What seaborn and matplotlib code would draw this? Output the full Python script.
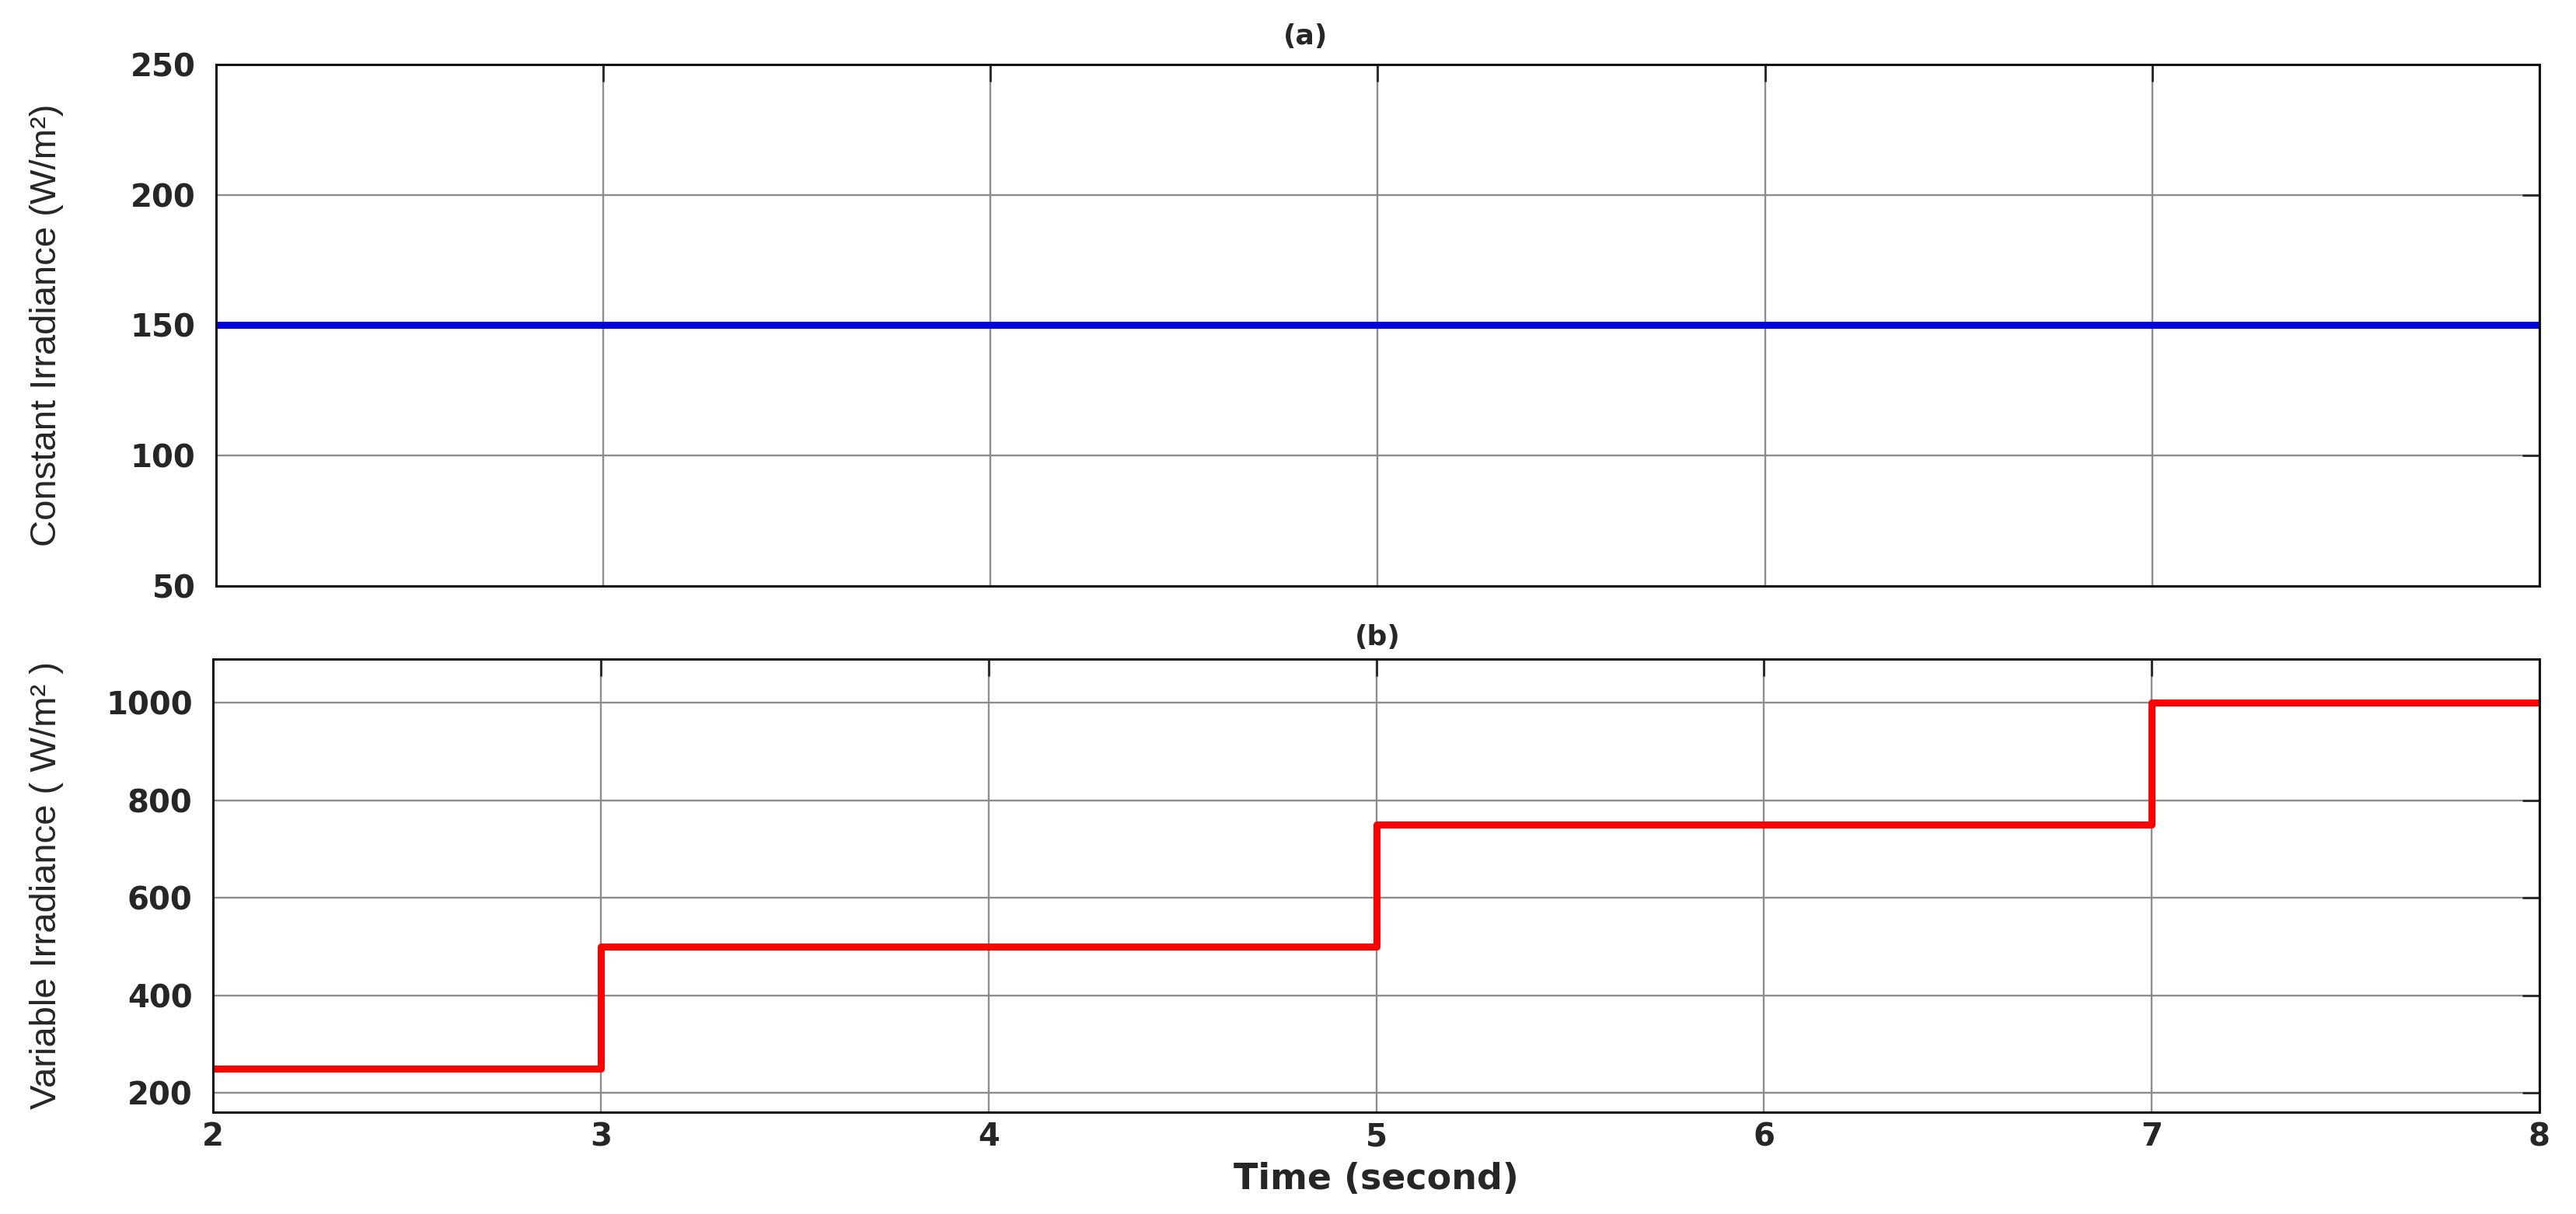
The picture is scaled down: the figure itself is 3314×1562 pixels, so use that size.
import matplotlib
matplotlib.use("Agg")
import matplotlib.pyplot as plt
import seaborn as sns
import pandas as pd

# irradiance profiles (time in seconds, W/m^2)
time_a = [2, 8]
irr_a = [150, 150]
time_b = [2, 3, 5, 7, 8]
irr_b = [250, 500, 750, 1000, 1000]

xticks = [2, 3, 4, 5, 6, 7, 8]
yticks_a = [50, 100, 150, 200, 250]
yticks_b = [200, 400, 600, 800, 1000]

sns.set_style("white")
plt.rcParams["font.family"] = ["DejaVu Sans"]

df_a = pd.DataFrame({"t": time_a, "irr": irr_a})
df_b = pd.DataFrame({"t": time_b, "irr": irr_b})

fig = plt.figure(figsize=(33.14, 15.62), dpi=100)
ax1 = fig.add_axes([0.0839, 0.5173, 0.9019, 0.4296])
ax2 = fig.add_axes([0.0827, 0.0839, 0.9031, 0.3732])

sns.lineplot(data=df_a, x="t", y="irr", ax=ax1, color="#0000dd",
             linewidth=6.5, estimator=None, drawstyle="steps-post")
sns.lineplot(data=df_b, x="t", y="irr", ax=ax2, color="#ff0000",
             linewidth=6.5, estimator=None, drawstyle="steps-post")

for ax, yt in [(ax1, yticks_a), (ax2, yticks_b)]:
    ax.set_xlim(2, 8)
    ax.set_xticks(xticks)
    ax.set_yticks(yt)
    ax.grid(True, color="#8c8c8c", linewidth=1.7)
    ax.set_axisbelow(True)
    ax.tick_params(axis="both", direction="in", length=16, width=2, top=True,
                   right=True, labelsize=29)
    ax.tick_params(axis="y", pad=19)
    ax.tick_params(axis="x", pad=9)
    for lab in ax.get_xticklabels() + ax.get_yticklabels():
        lab.set_fontweight("bold")
    for sp in ax.spines.values():
        sp.set_linewidth(2.2)
        sp.set_color("#111111")

ax1.set_ylim(50, 250)
ax2.set_ylim(160, 1090)
ax1.tick_params(labelbottom=False)

ax1.set_xlabel("")
ax1.set_ylabel("Constant Irradiance (W/m²)", fontsize=34, family="Liberation Sans")
ax2.set_ylabel("Variable Irradiance ( W/m² )", fontsize=34, family="Liberation Sans")
ax1.yaxis.set_label_coords(-0.0655, 0.5)
ax2.yaxis.set_label_coords(-0.0641, 0.5)

ax2.set_xlabel("Time (second)", fontsize=33, fontweight="bold")
ax2.xaxis.set_label_coords(0.5, -0.148)
ax2.xaxis.label.set_va("center")

ax1.text(0.469, 1.054, "(a)", transform=ax1.transAxes, ha="center", va="center",
         fontsize=26, fontweight="bold")
ax2.text(0.5005, 1.048, "(b)", transform=ax2.transAxes, ha="center", va="center",
         fontsize=26, fontweight="bold")

fig.savefig("out.png", dpi=100, facecolor="white")
